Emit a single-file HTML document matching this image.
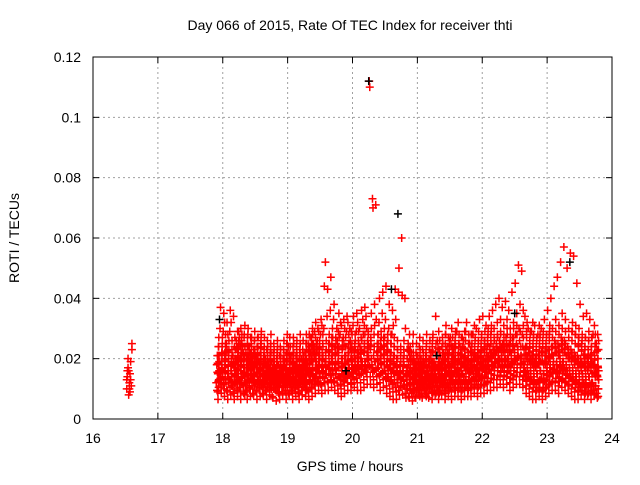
<!DOCTYPE html>
<html><head><meta charset="utf-8"><style>
body{margin:0;background:#fff}
svg text{font-family:"Liberation Sans",sans-serif;font-size:14px;fill:#000}
</style></head><body>
<svg id="c" width="640" height="480"></svg>
<script>
const xTicks=[16,17,18,19,20,21,22,23,24];
const yTicks=[0,0.02,0.04,0.06,0.08,0.1,0.12];
const yTickLabels=["0","0.02","0.04","0.06","0.08","0.1","0.12"];
const earlyTimes=[16.52,16.53,16.54,16.55,16.56,16.57,16.58,16.59,16.6,16.6,16.52,16.55,16.57,16.58,16.54,16.56,16.53];
const earlyValues=[0.010,0.014,0.017,0.008,0.012,0.015,0.019,0.011,0.025,0.023,0.013,0.016,0.009,0.013,0.020,0.010,0.016];
const stepTimes=[17.90,17.95,18.00,18.05,18.10,18.15,18.20,18.25,18.30,18.35,18.40,18.45,18.50,18.55,18.60,18.65,18.70,18.75,18.80,18.85,18.90,18.95,19.00,19.05,19.10,19.15,19.20,19.25,19.30,19.35,19.40,19.45,19.50,19.55,19.60,19.65,19.70,19.75,19.80,19.85,19.90,19.95,20.00,20.05,20.10,20.15,20.20,20.25,20.30,20.35,20.40,20.45,20.50,20.55,20.60,20.65,20.70,20.75,20.80,20.85,20.90,20.95,21.00,21.05,21.10,21.15,21.20,21.25,21.30,21.35,21.40,21.45,21.50,21.55,21.60,21.65,21.70,21.75,21.80,21.85,21.90,21.95,22.00,22.05,22.10,22.15,22.20,22.25,22.30,22.35,22.40,22.45,22.50,22.55,22.60,22.65,22.70,22.75,22.80,22.85,22.90,22.95,23.00,23.05,23.10,23.15,23.20,23.25,23.30,23.35,23.40,23.45,23.50,23.55,23.60,23.65,23.70,23.75];
const stepValues=[[12,18,21,9,15,13],[16,30,37,11,19,24],[14,29,35,10,22,18],[12,25,32,9,16,20],[13,29,36,8,20,15],[11,21,34,9,17,14],[15,26,19,10,12,23],[13,27,20,9,16,22],[14,24,11,18,28,8],[12,22,17,9,27,15],[13,24,19,10,16,21],[11,20,15,8,23,17],[12,21,18,9,14,24],[13,19,15,10,22,26],[11,17,14,8,21,15],[12,20,16,9,18,13],[14,18,12,8,22,16],[10,19,15,7,17,13],[12,16,14,6,20,18],[11,18,13,9,17,15],[13,17,11,8,20,15],[12,19,14,9,16,22],[11,15,24,8,18,13],[12,16,21,9,14,19],[13,18,11,10,20,15],[11,17,14,9,19,22],[12,16,20,8,15,13],[14,19,22,10,17,12],[12,18,25,9,15,21],[13,22,27,10,17,19],[14,24,29,11,19,16],[15,26,30,12,20,18],[14,28,33,11,22,18],[16,30,44,12,52,20],[15,34,43,12,25,19],[17,36,47,13,27,21],[15,33,38,12,24,19],[16,30,26,11,21,35],[14,28,32,10,20,17],[15,27,33,11,21,18],[16,29,34,12,22,19],[17,30,26,12,22,14],[18,31,34,13,25,20],[16,29,35,12,23,19],[17,30,24,12,20,36],[19,33,28,13,25,37],[18,34,30,14,26,22],[20,112,110,14,27,35],[18,73,70,13,28,38],[19,71,33,14,25,22],[17,32,40,12,26,21],[18,35,42,13,27,24],[16,33,44,11,25,20],[15,30,38,10,22,19],[14,28,36,9,21,18],[13,43,33,9,20,17],[12,42,50,8,18,16],[13,60,41,8,20,15],[11,40,30,7,17,14],[10,25,18,7,14,12],[11,22,16,6,14,12],[10,19,15,7,13,12],[12,21,15,8,17,10],[11,20,14,7,16,13],[12,18,15,8,22,10],[11,17,14,7,20,13],[13,21,16,9,25,11],[12,19,15,8,34,11],[13,26,16,9,20,11],[12,21,15,8,19,14],[13,22,17,9,28,11],[14,24,18,10,20,12],[13,27,17,9,21,15],[14,22,18,10,26,12],[15,29,19,10,22,13],[14,24,17,9,21,12],[15,26,20,10,23,13],[14,32,19,10,22,12],[15,25,18,10,22,13],[16,28,20,11,24,14],[15,30,19,10,23,13],[17,33,21,11,25,14],[16,34,20,11,26,14],[18,31,22,12,27,15],[19,34,23,12,28,16],[20,36,24,13,30,17],[21,38,25,13,32,17],[22,40,26,14,33,18],[20,37,25,13,31,17],[22,39,27,14,33,18],[20,36,25,12,30,16],[21,42,27,13,32,17],[22,45,28,14,35,18],[23,51,30,14,38,18],[21,49,28,13,36,17],[18,34,24,11,29,15],[16,30,22,10,26,14],[15,29,21,9,25,13],[14,31,20,9,24,12],[15,28,21,10,25,13],[16,30,22,9,26,12],[15,33,21,10,25,13],[17,36,23,11,28,14],[18,40,24,12,30,15],[19,44,26,12,33,16],[18,47,25,11,31,15],[20,52,27,13,35,16],[19,57,26,12,33,15],[17,50,24,11,30,14],[16,55,23,10,29,14],[15,54,22,9,28,13],[14,45,21,9,27,12],[13,38,20,8,25,12],[14,34,21,9,24,11],[13,35,20,8,23,11],[14,33,21,9,24,12],[12,28,18,8,22,11],[11,25,17,7,20,10]];
const blackTimes=[17.95,20.25,20.6,20.7,22.5,23.35,21.3,19.9];
const blackValues=[0.033,0.112,0.043,0.068,0.035,0.052,0.021,0.016];

const NS="http://www.w3.org/2000/svg";
const svg=document.getElementById('c');
const L=93,R=612,T=57,B=419;
const xs=t=>L+(t-16)/8*(R-L);
const ys=v=>B-v/0.12*(B-T);
function mk(tag,a){const e=document.createElementNS(NS,tag);for(const k in a)e.setAttribute(k,a[k]);svg.appendChild(e);return e;}
xTicks.forEach((t,i)=>{
  if(i>0&&i<xTicks.length-1){const g=mk('line',{x1:xs(t),x2:xs(t),y1:T,y2:B,stroke:'#a0a0a0','stroke-dasharray':'2,3'});
  
  }
  const tk=mk('line',{x1:xs(t),x2:xs(t),y1:B,y2:B-6,stroke:'#000'});
  
  
  const tk2=mk('line',{x1:xs(t),x2:xs(t),y1:T,y2:T+6,stroke:'#000'});
  
  
  const tx=mk('text',{x:xs(t),y:B+24,'text-anchor':'middle'});tx.textContent=t;
  
  
});
yTicks.forEach((v,i)=>{
  if(i>0&&i<yTicks.length-1){const g=mk('line',{x1:L,x2:R,y1:ys(v),y2:ys(v),stroke:'#a0a0a0','stroke-dasharray':'2,3'});
  
  }
  const tk=mk('line',{x1:L,x2:L+6,y1:ys(v),y2:ys(v),stroke:'#000'});
  
  
  const tk2=mk('line',{x1:R,x2:R-6,y1:ys(v),y2:ys(v),stroke:'#000'});
  
  
  const tx=mk('text',{x:L-12,y:ys(v)+5,'text-anchor':'end'});tx.textContent=yTickLabels[i];
  
  
});
function plus(t,v,col,name){
  const x=xs(t),y=ys(v);
  const p=mk('path',{d:`M${x-4},${y}h8M${x},${y-4}v8`,stroke:col,'stroke-width':1.5,fill:'none'});
  
  
}
earlyTimes.forEach((t,i)=>plus(t,earlyValues[i],'#ff0000','roti-point'));
stepTimes.forEach((t,i)=>{
  stepValues[i].forEach((v,k)=>plus(t+k*0.008,v/1000,'#ff0000','roti-point'));
  stepValues[i].forEach((v,k)=>{ if(v<30) plus(t+0.025+k*0.004,(v+3)/1000,'#ff0000','roti-point'); });
  stepValues[i].forEach((v,k)=>{ if(v<28&&v>8) plus(t+0.012+k*0.005,(v-2.5)/1000,'#ff0000','roti-point'); });
  stepValues[i].forEach((v,k)=>{ if(v<24) plus(t+0.035+k*0.002,(v+6)/1000,'#ff0000','roti-point'); });
});
blackTimes.forEach((t,i)=>plus(t,blackValues[i],'#000000','roti-point-alt'));
const fr=mk('rect',{x:L,y:T,width:R-L,height:B-T,fill:'none',stroke:'#000'});


const ti=mk('text',{x:350,y:30,'text-anchor':'middle'});ti.textContent='Day 066 of 2015, Rate Of TEC Index for receiver thti';


const xl=mk('text',{x:350,y:471,'text-anchor':'middle'});xl.textContent='GPS time / hours';


const yl=mk('text',{x:0,y:0,'text-anchor':'middle',transform:'translate(19,238) rotate(-90)'});yl.textContent='ROTI / TECUs';


</script>
</body></html>
